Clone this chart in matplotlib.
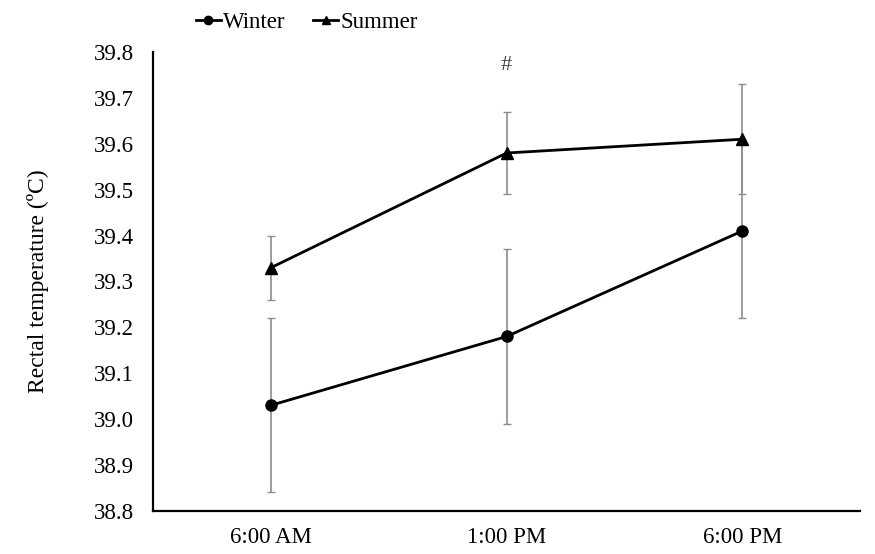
import matplotlib
matplotlib.use("Agg")
import matplotlib.pyplot as plt

times = ["6:00 AM", "1:00 PM", "6:00 PM"]
winter = [39.03, 39.18, 39.41]
winter_err = [0.19, 0.19, 0.19]
summer = [39.33, 39.58, 39.61]
summer_err = [0.07, 0.09, 0.12]
yticks = [38.8, 38.9, 39.0, 39.1, 39.2, 39.3, 39.4, 39.5, 39.6, 39.7, 39.8]

plt.rcParams['font.family'] = ['Liberation Serif', 'DejaVu Serif']

fig = plt.figure(figsize=(8.75, 5.54), dpi=100)
ax = fig.add_axes([0.175, 0.078, 0.808, 0.828])

x = [i + 0.5 for i in range(len(times))]

ax.errorbar(x, winter, yerr=winter_err, fmt='none', ecolor='#8c8c8c',
            elinewidth=1.2, capsize=3, capthick=1.0, zorder=2)
ax.errorbar(x, summer, yerr=summer_err, fmt='none', ecolor='#8c8c8c',
            elinewidth=1.2, capsize=3, capthick=1.0, zorder=2)
lw, = ax.plot(x, winter, color='black', lw=2, marker='o', ms=8, label='Winter', zorder=3)
ls, = ax.plot(x, summer, color='black', lw=2, marker='^', ms=8, label='Summer', zorder=3)

ax.text(x[1], 39.77, '#', ha='center', va='center', fontsize=16, color='#404040')

ax.set_xlim(0, 3)
ax.set_ylim(38.8, 39.8)
ax.set_xticks(x)
ax.set_xticklabels(times, fontsize=16.5)
ax.set_yticks(yticks)
ax.set_yticklabels([f"{v:.1f}" for v in yticks], fontsize=16.5)
ax.tick_params(length=0, pad=14)
ax.tick_params(axis='x', pad=12)
for s in ['top', 'right']:
    ax.spines[s].set_visible(False)
for s in ['left', 'bottom']:
    ax.spines[s].set_linewidth(1.6)
    ax.spines[s].set_color('black')

ax.set_ylabel('Rectal temperature (ºC)', fontsize=17, labelpad=32)

fig.legend(handles=[lw, ls], loc='upper left', bbox_to_anchor=(0.2, 1.015),
           ncol=2, frameon=False, fontsize=16.5, handlelength=1.1,
           handletextpad=0.1, columnspacing=1.2, markerscale=0.75)

fig.savefig('out.png', dpi=100)
